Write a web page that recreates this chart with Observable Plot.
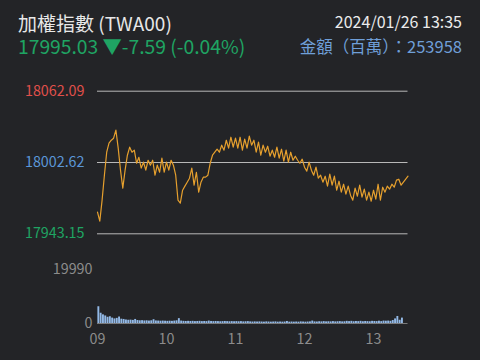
<!DOCTYPE html>
<html><head><meta charset="utf-8">
<script src="https://cdn.jsdelivr.net/npm/d3@7"></script>
<script src="https://cdn.jsdelivr.net/npm/@observablehq/plot@0.6"></script>
<style>
html,body{margin:0;padding:0;background:#232427;}
#wrap{position:relative;width:480px;height:360px;background:#232427;overflow:hidden;font-family:"Noto Sans CJK TC","Noto Sans",sans-serif;}
#wrap svg{position:absolute;left:0;top:0;}
.h{position:absolute;white-space:nowrap;line-height:1.0;}
</style></head>
<body><div id="wrap">
<div class="h" id="name" style="left:18px;top:13px;font-size:19px;color:#e8e8e8;"></div>
<div class="h" id="quote" style="left:18px;top:37px;font-size:19.3px;color:#1fa463;"></div>
<div class="h" id="date" style="right:18px;top:13px;font-size:16px;color:#ececec;"></div>
<div class="h" id="amt" style="right:18px;top:38px;font-size:16.5px;color:#6f9fd8;"></div>
</div>
<script>
const title = "加權指數 (TWA00)";
const quote = "17995.03 ▼-7.59 (-0.04%)";
const stamp = "2024/01/26 13:35";
const amount = "金額（百萬）：253958";

const priceTicks = [18062.09, 18002.62, 17943.15];
const volumeTicks = [19990, 0];
const hourLabels = ["09", "10", "11", "12", "13"];

const times = [
"09:00","09:02","09:04","09:06","09:08","09:10","09:12","09:14","09:16","09:18","09:20","09:22","09:24","09:26","09:28","09:30","09:32","09:34","09:36","09:38","09:40","09:42","09:44","09:46","09:48","09:50","09:52","09:54","09:56","09:58",
"10:00","10:02","10:04","10:06","10:08","10:10","10:12","10:14","10:16","10:18","10:20","10:22","10:24","10:26","10:28","10:30","10:32","10:34","10:36","10:38","10:40","10:42","10:44","10:46","10:48","10:50","10:52","10:54","10:56","10:58",
"11:00","11:02","11:04","11:06","11:08","11:10","11:12","11:14","11:16","11:18","11:20","11:22","11:24","11:26","11:28","11:30","11:32","11:34","11:36","11:38","11:40","11:42","11:44","11:46","11:48","11:50","11:52","11:54","11:56","11:58",
"12:00","12:02","12:04","12:06","12:08","12:10","12:12","12:14","12:16","12:18","12:20","12:22","12:24","12:26","12:28","12:30","12:32","12:34","12:36","12:38","12:40","12:42","12:44","12:46","12:48","12:50","12:52","12:54","12:56","12:58",
"13:00","13:02","13:04","13:06","13:08","13:10","13:12","13:14","13:16","13:18","13:20","13:22","13:24","13:30"];

const prices = [
17961.2,17953.7,17971.2,17992.0,18011.2,18018.7,18021.2,18022.9,18029.6,18014.6,
17996.2,17981.2,17996.2,18008.7,18015.4,18011.2,18012.9,18002.0,18007.0,17997.9,
18002.9,17996.2,18004.5,18000.4,18004.5,17992.0,18000.4,17994.5,18006.2,17994.5,
18002.9,17996.2,18004.5,18000.4,17992.0,17971.2,17968.7,17979.5,17982.9,17986.2,
17989.5,17997.9,17983.7,17994.5,17977.9,17986.2,17990.4,17990.4,17992.0,18002.0,
18008.7,18011.2,18013.7,18011.2,18017.1,18012.9,18021.2,18014.6,18023.7,18015.4,
18022.9,18014.6,18023.7,18012.9,18022.1,18014.6,18024.6,18017.1,18021.2,18011.2,
18019.6,18008.7,18017.1,18011.2,18016.2,18007.9,18012.9,18007.0,18015.4,18006.2,
18013.7,18003.7,18012.9,18002.9,18011.2,18004.5,18007.9,18004.5,18002.0,18005.4,
17998.7,17995.4,18002.9,17996.2,17992.0,17998.7,17989.5,17992.0,17986.2,17991.2,
17982.9,17992.9,17983.7,17991.2,17979.5,17987.0,17977.9,17984.5,17976.2,17982.9,
17975.4,17971.2,17981.2,17974.5,17983.7,17973.7,17980.4,17971.2,17977.9,17970.3,
17979.5,17972.0,17984.5,17971.2,17982.0,17977.9,17982.9,17980.4,17984.5,17982.0,
17987.9,17988.7,17983.7,17991.2];

const volumes = [
6200,3800,3200,2800,2300,2500,2000,1700,1900,2400,
1600,1500,1300,1200,1250,1150,1500,1100,1000,1050,
950,1000,900,1000,1400,950,900,850,900,850,
800,850,800,900,1000,1800,900,800,750,800,
750,800,700,750,800,700,750,700,900,750,
700,750,700,650,700,750,700,650,700,650,
700,650,700,600,650,700,600,550,600,550,
600,550,500,600,550,500,550,600,500,550,
500,550,750,500,550,500,550,500,600,550,
500,550,600,900,600,550,650,600,700,600,
650,600,700,600,650,700,600,650,800,700,
800,650,750,700,800,650,750,700,650,800,
750,700,850,700,900,850,900,800,1100,1700,
2600,1200,2000,0];

const parse = d3.timeParse("%H:%M");
const data = times.map((t, i) => ({t: parse(t), p: prices[i], v: volumes[i]}));
const bars = data.filter(d => d.v > 0).map(d => ({x1: d.t, x2: d3.timeMinute.offset(d.t, 2), v: d.v}));
const xDomain = [parse("09:00"), parse("13:30")];
const hourTicks = hourLabels.map(h => d3.timeParse("%H")(h));

document.getElementById("name").textContent = title;
document.getElementById("quote").textContent = quote;
document.getElementById("date").textContent = stamp;
document.getElementById("amt").textContent = amount;

const W = 480, H = 360;
const font = "Noto Sans CJK TC, Noto Sans, sans-serif";
const x0 = xDomain[0];

const price = Plot.plot({
  width: W, height: H,
  marginLeft: 97, marginRight: 72.5, marginTop: 90.7, marginBottom: 126.7,
  style: {background: "transparent", fontFamily: font},
  x: {type: "time", domain: xDomain, axis: null},
  y: {domain: [priceTicks[2], priceTicks[0]], axis: null},
  marks: [
    Plot.ruleY(priceTicks, {stroke: "#b8b8b8", strokeWidth: 1}),
    Plot.line(data, {x: "t", y: "p", stroke: "#e6a02e", strokeWidth: 1.2}),
    Plot.text([priceTicks[0]], {x: () => x0, y: d => d, text: d => d.toFixed(2), textAnchor: "end", dx: -13, fill: "#e0504b", fontSize: 14.3}),
    Plot.text([priceTicks[1]], {x: () => x0, y: d => d, text: d => d.toFixed(2), textAnchor: "end", dx: -13, fill: "#5b97d8", fontSize: 14.3}),
    Plot.text([priceTicks[2]], {x: () => x0, y: d => d, text: d => d.toFixed(2), textAnchor: "end", dx: -13, fill: "#1fa463", fontSize: 14.3})
  ]
});

const vol = Plot.plot({
  width: W, height: H,
  marginLeft: 97, marginRight: 72.5, marginTop: 269, marginBottom: 37,
  style: {background: "transparent", fontFamily: font},
  x: {type: "time", domain: xDomain},
  y: {domain: [0, volumeTicks[0]], axis: null},
  marks: [
    Plot.rectY(bars, {x1: "x1", x2: "x2", y: "v", fill: "#93b9e6", insetLeft: 0.4}),
    Plot.ruleY([0], {stroke: "#7a7a7a", strokeWidth: 1}),
    Plot.text(volumeTicks, {x: () => x0, y: d => d, text: d => String(d), textAnchor: "end", dx: -5, fill: "#8c8c8c", fontSize: 14.3}),
    Plot.axisX(hourTicks, {tickSize: 0, tickPadding: 10.5, tickFormat: "%H", fill: "#8c8c8c", fontSize: 14.3, color: "#8c8c8c"})
  ]
});

document.getElementById("wrap").appendChild(price);
document.getElementById("wrap").appendChild(vol);
</script>
</body></html>
